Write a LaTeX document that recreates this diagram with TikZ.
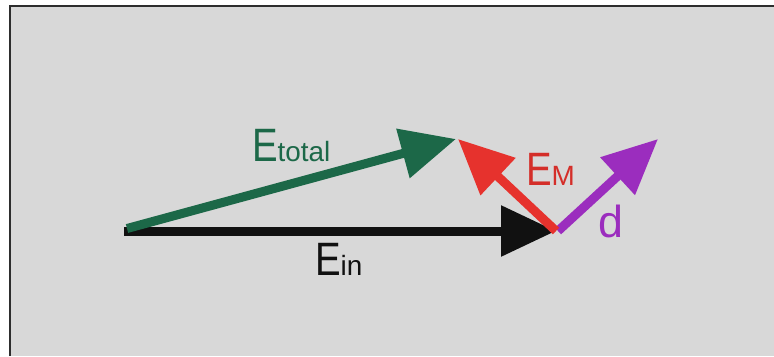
\documentclass[tikz,border=0pt]{standalone}
\usepackage{fontspec}
\setmainfont{Liberation Sans}
\usetikzlibrary{arrows.meta}

\definecolor{bgpanel}{RGB}{216,216,216}
\definecolor{framecol}{RGB}{45,45,45}
\definecolor{vecgreen}{RGB}{28,104,72}
\definecolor{vecred}{RGB}{230,50,45}
\definecolor{vecpurple}{RGB}{155,45,190}
\definecolor{vecblack}{RGB}{17,17,17}

\newcommand{\bigE}{{\fontsize{47}{47}\selectfont\scalebox{0.82}[1]{E}}}
\newcommand{\subtxt}[1]{{\fontsize{28}{28}\selectfont #1}}

\tikzset{
  vector/.style={line width=9bp, -{Triangle[length=55bp,width=49bp]}},
  veclabel/.style={anchor=base west, inner sep=0pt, outer sep=0pt},
}

\begin{document}
\begin{tikzpicture}[x=1bp, y=-1bp]
  \useasboundingbox (0,0) rectangle (774,356);

  % panel with its frame on the left and top edges
  \fill[bgpanel] (10,6) rectangle (774,356);
  \draw[framecol, line width=2bp] (10,356) -- (10,6) -- (774,6);

  % anchor points of the vectors
  \coordinate (inStart)  at (124,231);
  \coordinate (inEnd)    at (556,231);
  \coordinate (totStart) at (127,228.5);
  \coordinate (totEnd)   at (456,139);
  \coordinate (mStart)   at (556,231);
  \coordinate (mEnd)     at (458,139);
  \coordinate (dStart)   at (558,231);
  \coordinate (dEnd)     at (658,139);

  % vectors
  \draw[vector, vecblack]  (inStart)  -- (inEnd);
  \draw[vector, vecgreen]  (totStart) -- (totEnd);
  \draw[vector, vecpurple] (dStart)   -- (dEnd);
  \draw[vector, vecred]    (mStart)   -- (mEnd);

  % labels
  \node[veclabel, text=vecgreen]  (ltot) at (252,161) {\bigE\subtxt{total}};
  \node[veclabel, text=vecblack]  (lin)  at (315,275) {\bigE\subtxt{in}};
  \node[veclabel, text=vecred!92!black] (lm) at (526,185) {\bigE\subtxt{M}};
  \node[veclabel, text=vecpurple] (ld)   at (598,237) {\fontsize{45}{45}\selectfont d};
\end{tikzpicture}
\end{document}
